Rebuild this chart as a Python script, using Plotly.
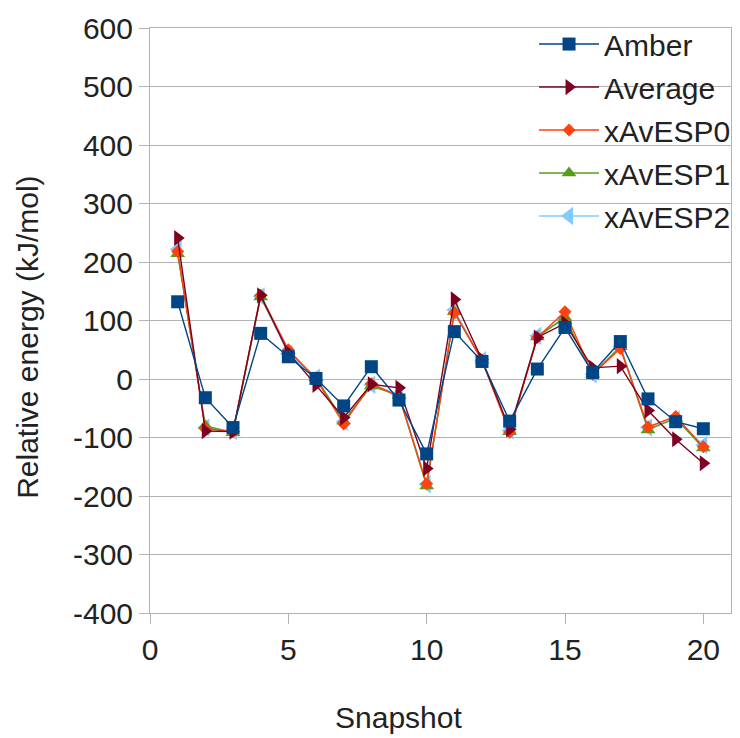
import plotly.graph_objects as go

snapshots = list(range(1, 21))
amber = [132, -32, -83, 78, 38, 1, -46, 21, -36, -128, 81, 30, -72, 17, 88, 11, 64, -34, -73, -85]
average = [241, -89, -90, 143, 45, -10, -66, -9, -15, -153, 136, 33, -86, 71, 95, 19, 22, -54, -103, -144]
esp0 = [218, -85, -90, 143, 50, 0, -77, -8, -30, -179, 113, 32, -91, 71, 115, 8, 52, -82, -64, -116]
esp1 = [214, -80, -92, 140, 48, 2, -72, -12, -28, -183, 115, 32, -90, 72, 105, 8, 55, -87, -67, -118]
esp2 = [222, -83, -89, 141, 43, 2, -73, -10, -26, -180, 118, 32, -88, 74, 105, 8, 56, -83, -69, -113]

y_ticks = [-400, -300, -200, -100, 0, 100, 200, 300, 400, 500, 600]
y_ticktext = [str(v) for v in y_ticks]
x_ticks = [0, 5, 10, 15, 20]

# drawn bottom-to-top; legend rank gives the top-to-bottom legend order
series = [
    ("xAvESP2", esp2, "#83caff", "triangle-left", 16, 5),
    ("xAvESP1", esp1, "#579d1c", "triangle-up", 13, 4),
    ("xAvESP0", esp0, "#ff420e", "diamond", 10, 3),
    ("Average", average, "#7e0021", "triangle-right", 14, 2),
    ("Amber", amber, "#004586", "square", 13, 1),
]

FONT = "Liberation Sans, Arial, sans-serif"
TXT = "#222222"
fig = go.Figure()
for name, vals, color, sym, size, rank in series:
    fig.add_trace(go.Scatter(
        x=snapshots, y=vals, name=name, legendgroup=name, legendrank=rank,
        mode="lines+markers",
        line=dict(color=color, width=1.4),
        marker=dict(symbol=sym, size=size, color=color, line=dict(width=0)),
    ))

grid = "#b3b3b3"
fig.update_layout(
    width=740, height=738,
    margin=dict(l=150, r=9, t=28, b=125, autoexpand=False),
    paper_bgcolor="white", plot_bgcolor="white",
    font=dict(family=FONT, size=30, color=TXT),
    showlegend=True,
    legend=dict(
        x=0.661, y=1.017, xanchor="left", yanchor="top",
        traceorder="grouped", tracegroupgap=1,
        bgcolor="rgba(0,0,0,0)", borderwidth=0,
        itemwidth=60,
        font=dict(family=FONT, size=30, color=TXT),
    ),
    xaxis=dict(
        range=[0, 21], tickvals=x_ticks, ticktext=[str(v) for v in x_ticks],
        showgrid=False, zeroline=False,
        showline=True, linecolor=grid, linewidth=1, mirror=True,
        ticks="outside", ticklen=10, tickcolor=grid,
        tickfont=dict(family=FONT, size=30, color=TXT),
    ),
    yaxis=dict(
        range=[-400, 600], tickvals=y_ticks, ticktext=y_ticktext,
        showgrid=True, gridcolor=grid, gridwidth=1, zeroline=False,
        showline=True, linecolor=grid, linewidth=1, mirror=True,
        ticks="outside", ticklen=10, tickcolor=grid,
        tickfont=dict(family=FONT, size=30, color=TXT),
    ),
    annotations=[
        dict(text="Snapshot", xref="paper", yref="paper", x=0.427, y=-0.179,
             showarrow=False, xanchor="center", yanchor="middle",
             font=dict(family=FONT, size=30, color=TXT)),
        dict(text="Relative energy (kJ/mol)", xref="paper", yref="paper",
             x=-0.21, y=0.472, textangle=-90, showarrow=False,
             xanchor="center", yanchor="middle",
             font=dict(family=FONT, size=30, color=TXT)),
    ],
)

fig.write_html("out.html")
